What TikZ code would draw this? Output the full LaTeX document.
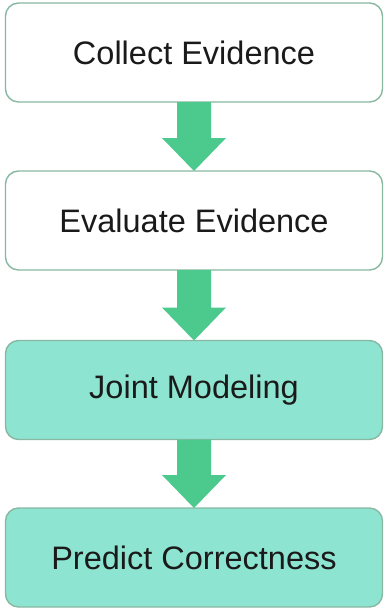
\documentclass[tikz,border=0pt]{standalone}
\usepackage{fontspec}
\setmainfont{Liberation Sans}
\usetikzlibrary{calc}
\definecolor{boxline}{HTML}{88B8A2}
\definecolor{tealfill}{HTML}{8DE4D0}
\definecolor{arrowgreen}{HTML}{4CC98D}
\definecolor{labeltext}{HTML}{1A1A1A}
\begin{document}
\begin{tikzpicture}[x=1pt,y=-1pt,
  stagebox/.style={draw=boxline, line width=1.4pt, rounded corners=13pt,
    minimum width=377pt, minimum height=99pt, inner sep=0pt, outer sep=0pt,
    text=labeltext, font=\fontsize{32.5}{39}\selectfont},
  plainbox/.style={stagebox, fill=white},
  tealbox/.style={stagebox, fill=tealfill},
  flowarrow/.style={fill=arrowgreen}
]
\useasboundingbox (0,0) rectangle (385,610);

\node[plainbox] (collect)  at (194,52.5)  {Collect Evidence};
\node[plainbox] (evaluate) at (194,220.5) {Evaluate Evidence};
\node[tealbox]  (joint)    at (194,390)   {Joint Modeling};
\node[tealbox]  (predict)  at (194,557.5) {Predict Correctness};

% block arrow between two stacked boxes: shaft 34 wide, head 64 wide, 33 long
\newcommand{\blockarrow}[2]{%
  \fill[flowarrow]
    ($(#1.south)+(-17,0)$) -- ($(#1.south)+(17,0)$)
    -- ($(#2.north)+(17,-33)$) -- ($(#2.north)+(32,-33)$)
    -- (#2.north)
    -- ($(#2.north)+(-32,-33)$) -- ($(#2.north)+(-17,-33)$) -- cycle;}
\blockarrow{collect}{evaluate}
\blockarrow{evaluate}{joint}
\blockarrow{joint}{predict}
\end{tikzpicture}
\end{document}
